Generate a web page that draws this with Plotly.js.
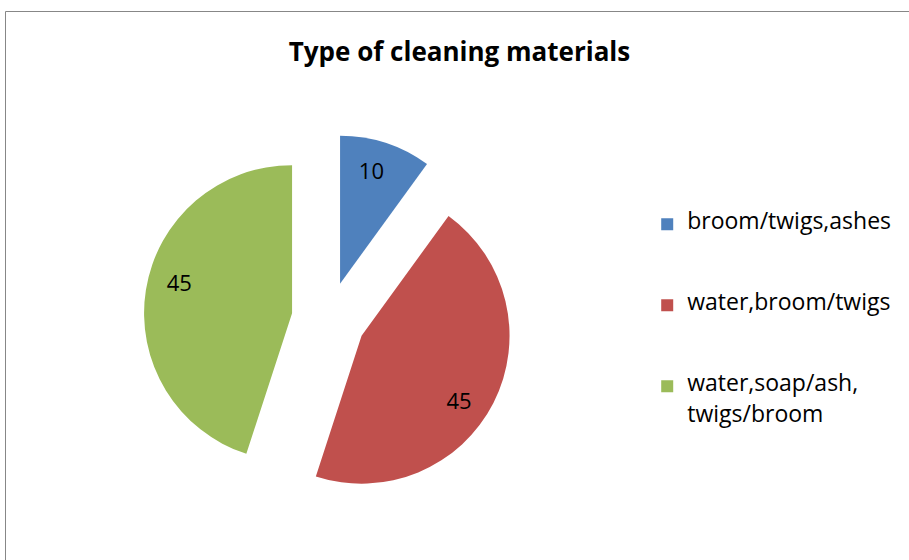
<!DOCTYPE html>
<html>
<head>
<meta charset="utf-8">
<script src="https://cdn.plot.ly/plotly-3.0.1.min.js"></script>
<style>html,body{margin:0;padding:0;background:#fff;}#chart{width:909px;height:560px;}</style>
</head>
<body>
<div id="chart"></div>
<script>
const categories = ["broom/twigs,ashes", "water,broom/twigs", "water,soap/ash,<br>twigs/broom"];
const values = [10, 45, 45];
const colors = ["#4F81BD", "#C0504D", "#9BBB59"];
// legend entries: larger glyphs on a fine line grid (blank lines give wrapped-line and entry spacing)
const legendLabels = categories.map(c => {
  const out = [];
  c.split("<br>").forEach((s, i) => {
    if (i > 0) out.push(" ");
    out.push("<span style='font-size:23px'>" + s + "</span>");
  });
  while (out.length < 5) out.push(" ");
  return out.join("<br>");
});

const FONT = "'Open Sans', Lato, sans-serif";
const pieCommon = {
  type: "pie",
  labels: legendLabels,
  values: values,
  sort: false,
  direction: "clockwise",
  rotation: 0,
  pull: [0.25, 0.25, 0.25],
  domain: {x: [0.158, 0.565], y: [0.100, 0.761]}
};

const mainPie = Object.assign({}, pieCommon, {
  textinfo: "none",
  marker: {colors: colors, line: {width: 0}},
  showlegend: true,
  hoverinfo: "label+value"
});

const clear = ["rgba(0,0,0,0)", "rgba(0,0,0,0)", "rgba(0,0,0,0)"];
// transparent rings used only to carry the value labels further out in each slice
const labelRingA = Object.assign({}, pieCommon, {
  hole: 0.58,
  rotation: 5,
  text: values.map((v, i) => (i === 0 ? "" : String(v))),
  textinfo: "text",
  textposition: "inside",
  insidetextorientation: "horizontal",
  insidetextfont: {family: FONT, size: 22, color: "#000"},
  marker: {colors: clear, line: {width: 0}},
  showlegend: false,
  hoverinfo: "skip"
});
const labelRingB = Object.assign({}, labelRingA, {
  hole: 0.6,
  rotation: -2,
  text: values.map((v, i) => (i === 0 ? String(v) : ""))
});

const layout = {
  width: 909, height: 560,
  margin: {l: 0, r: 0, t: 0, b: 0},
  paper_bgcolor: "#fff",
  font: {family: FONT, color: "#000"},
  title: {text: "<b>Type of cleaning materials</b>", x: 0.5055, xanchor: "center", y: 0.907, yanchor: "middle",
          font: {family: FONT, size: 26, color: "#000"}},
  showlegend: true,
  legend: {x: 0.712, xanchor: "left", y: 0.625, yanchor: "top", valign: "top",
           font: {family: FONT, size: 12, color: "#000"},
           itemwidth: 30, bgcolor: "rgba(0,0,0,0)"},
  shapes: [{type: "rect", xref: "paper", yref: "paper", x0: 5.5/909, x1: 1.1, y0: -0.1, y1: 1 - 11.5/560,
            line: {color: "#878787", width: 1}, fillcolor: "rgba(0,0,0,0)", layer: "below"}]
};

Plotly.newPlot("chart", [mainPie, labelRingA, labelRingB], layout, {displayModeBar: false, staticPlot: true});
</script>
</body>
</html>
